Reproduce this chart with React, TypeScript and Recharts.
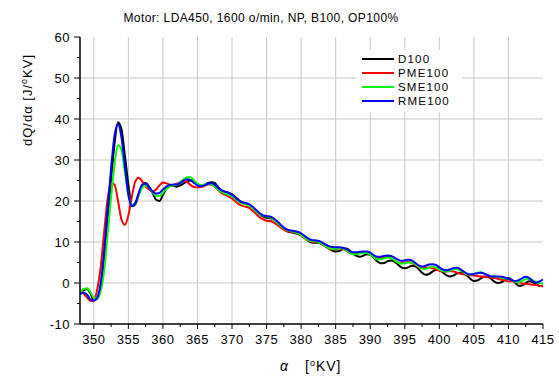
import React from 'react';
import { LineChart, Line, XAxis, YAxis, ReferenceLine } from 'recharts';

const angles = [
  348, 348.5, 349, 349.5, 350, 350.5, 351, 351.5, 352, 352.5,
  353, 353.5, 354, 354.5, 355, 355.5, 356, 356.5, 357, 357.5,
  358, 358.5, 359, 359.5, 360, 360.5, 361, 361.5, 362, 362.5,
  363, 363.5, 364, 364.5, 365, 365.5, 366, 366.5, 367, 367.5,
  368, 368.5, 369, 369.5, 370, 370.5, 371, 371.5, 372, 372.5,
  373, 373.5, 374, 374.5, 375, 375.5, 376, 376.5, 377, 377.5,
  378, 378.5, 379, 379.5, 380, 380.5, 381, 381.5, 382, 382.5,
  383, 383.5, 384, 384.5, 385, 385.5, 386, 386.5, 387, 387.5,
  388, 388.5, 389, 389.5, 390, 390.5, 391, 391.5, 392, 392.5,
  393, 393.5, 394, 394.5, 395, 395.5, 396, 396.5, 397, 397.5,
  398, 398.5, 399, 399.5, 400, 400.5, 401, 401.5, 402, 402.5,
  403, 403.5, 404, 404.5, 405, 405.5, 406, 406.5, 407, 407.5,
  408, 408.5, 409, 409.5, 410, 410.5, 411, 411.5, 412, 412.5,
  413, 413.5, 414, 414.5, 415,
];

const d100 = [
  -2.3, -1.8, -1.4, -2.5, -4.2, -3.8, -1.0, 5.5, 15, 25,
  34, 39.2, 37.5, 31, 24, 18.7, 19.2, 21.5, 23.6, 24.4,
  23.5, 22.0, 20.3, 20.0, 21.5, 23.0, 23.7, 23.7, 23.5, 23.8,
  24.3, 24.8, 25.0, 24.7, 24.0, 23.7, 23.9, 24.4, 24.6, 24.4,
  23.4, 22.6, 22.2, 22.0, 21.6, 21.0, 20.2, 19.6, 19.3, 19.0,
  18.4, 17.6, 16.8, 16.2, 15.9, 15.8, 15.5, 14.8, 14.0, 13.2,
  12.6, 12.4, 12.2, 12.0, 11.6, 11.0, 10.3, 9.9, 9.8, 9.8,
  9.5, 9.0, 8.4, 7.9, 7.7, 7.8, 8.2, 8.4, 8.0, 7.2,
  6.6, 6.4, 6.7, 7.0, 6.9, 6.2, 5.3, 4.8, 4.9, 5.3,
  5.5, 5.2, 4.5, 3.8, 3.6, 3.8, 4.2, 4.1, 3.4, 2.5,
  2.0, 2.2, 2.8, 3.2, 3.2, 2.6, 1.9, 1.6, 1.8, 2.3,
  2.5, 2.4, 1.8, 1.0, 0.5, 0.6, 1.1, 1.6, 1.5, 1.0,
  0.3, 0.0, 0.2, 0.8, 1.2, 0.8, 0.0, -0.7, -0.6, 0.0,
  0.4, 0.2, -0.3, -0.7, -0.8,
];

const pme100 = [
  -1.8, -2.5, -3.5, -4.4, -4.2, -1.5, 4.0, 12.5, 20.5, 24.3,
  24.0, 20.0, 15.5, 14.2, 16.5, 21.0, 24.8, 25.7, 24.8, 23.5,
  22.8, 22.3, 22.8, 23.8, 24.5, 24.3, 24.0, 23.9, 24.2, 24.6,
  24.9, 24.6, 23.9, 23.4, 23.3, 23.4, 23.7, 24.0, 24.0, 23.5,
  22.6, 21.9, 21.5, 21.1, 20.6, 19.9, 19.2, 18.8, 18.6, 18.3,
  17.6, 16.8, 16.0, 15.5, 15.2, 15.1, 14.8, 14.2, 13.6, 13.0,
  12.6, 12.5, 12.4, 12.1, 11.6, 11.0, 10.4, 10.1, 10.0, 9.9,
  9.5, 8.9, 8.4, 8.2, 8.3, 8.4, 8.3, 7.9, 7.4, 7.1,
  7.2, 7.5, 7.6, 7.5, 7.0, 6.4, 6.0, 6.1, 6.4, 6.4,
  6.1, 5.5, 5.0, 4.9, 5.0, 5.1, 4.9, 4.4, 3.9, 3.7,
  3.7, 3.8, 3.6, 3.3, 3.0, 2.8, 2.8, 2.9, 2.8, 2.6,
  2.3, 2.1, 2.0, 1.9, 1.8, 1.7, 1.6, 1.5, 1.4, 1.3,
  1.2, 1.0, 0.8, 0.6, 0.4, 0.4, 0.3, 0.1, -0.1, -0.2,
  -0.3, -0.4, -0.5, -0.7, -0.8,
];

const sme100 = [
  -2.2, -1.5, -1.3, -2.2, -3.6, -3.8, -2.0, 3.0, 12.0, 21.0,
  29.0, 33.6, 32.5, 27.0, 21.5, 19.0, 19.5, 21.5, 23.3, 23.8,
  23.2, 22.2, 21.3, 21.2, 22.0, 23.0, 23.6, 23.8, 24.0, 24.6,
  25.3, 25.8, 25.8, 25.0, 24.2, 23.9, 24.0, 24.2, 24.1, 23.6,
  22.8, 22.2, 21.8, 21.5, 21.1, 20.5, 19.8, 19.4, 19.2, 18.9,
  18.3, 17.5, 16.8, 16.4, 16.2, 16.0, 15.5, 14.8, 14.0, 13.3,
  12.9, 12.7, 12.5, 12.2, 11.7, 11.1, 10.5, 10.2, 10.2, 10.0,
  9.6, 9.0, 8.5, 8.3, 8.4, 8.5, 8.4, 8.0, 7.4, 7.0,
  7.0, 7.2, 7.4, 7.3, 6.9, 6.3, 5.8, 5.8, 6.0, 6.2,
  6.1, 5.6, 5.0, 4.7, 4.8, 5.0, 5.0, 4.6, 4.0, 3.5,
  3.4, 3.7, 4.0, 3.8, 3.3, 2.9, 2.8, 3.0, 3.3, 3.4,
  3.1, 2.6, 2.1, 2.0, 2.2, 2.5, 2.6, 2.3, 1.9, 1.6,
  1.6, 1.5, 1.3, 1.1, 1.0, 0.7, 0.3, 0.2, 0.5, 0.9,
  1.0, 0.7, 0.2, 0.0, -0.1,
];

const rme100 = [
  -2.8, -2.4, -2.8, -4.0, -4.3, -3.5, 0.0, 8.0, 18.0, 28.0,
  36.0, 38.7, 35.5, 28.5, 21.5, 18.8, 19.5, 22.0, 24.0, 24.2,
  23.3, 22.3, 21.8, 22.0, 22.8, 23.5, 23.9, 24.0, 24.0, 24.4,
  25.0, 25.3, 25.1, 24.4, 23.8, 23.6, 23.8, 24.2, 24.3, 24.0,
  23.2, 22.6, 22.3, 22.0, 21.5, 20.8, 20.1, 19.7, 19.5, 19.2,
  18.6, 17.8, 17.0, 16.5, 16.3, 16.2, 15.8, 15.1, 14.3, 13.5,
  13.0, 12.8, 12.7, 12.5, 12.1, 11.5, 10.9, 10.5, 10.4, 10.3,
  9.9, 9.4, 9.0, 8.8, 8.7, 8.7, 8.6, 8.3, 7.8, 7.5,
  7.5, 7.6, 7.7, 7.7, 7.4, 6.8, 6.4, 6.4, 6.6, 6.7,
  6.6, 6.2, 5.7, 5.4, 5.5, 5.7, 5.5, 4.9, 4.3, 4.0,
  4.2, 4.5, 4.6, 4.4, 3.8, 3.3, 3.1, 3.3, 3.6, 3.7,
  3.4, 2.8, 2.3, 2.1, 2.2, 2.4, 2.5, 2.3, 1.9, 1.6,
  1.6, 1.6, 1.5, 1.3, 1.0, 0.7, 0.5, 0.7, 1.2, 1.5,
  1.2, 0.5, 0.1, 0.4, 0.8,
];

const xTicks = [350, 352.5, 355, 357.5, 360, 362.5, 365, 367.5, 370, 372.5, 375, 377.5, 380, 382.5, 385, 387.5, 390, 392.5, 395, 397.5, 400, 402.5, 405, 407.5, 410, 412.5, 415];
const xGrid = [350, 355, 360, 365, 370, 375, 380, 385, 390, 395, 400, 405, 410];
const yTicks = [-10, -5, 0, 5, 10, 15, 20, 25, 30, 35, 40, 45, 50, 55, 60];
const yGrid = [0, 10, 20, 30, 40, 50];

const seriesNames = ['D100', 'PME100', 'SME100', 'RME100'];
const seriesKeys = ['d100', 'pme100', 'sme100', 'rme100'];
const seriesColors = ['#000000', '#ff0000', '#00ff00', '#0000ff'];

const rows = angles.map((a, i) => ({
  angle: a,
  d100: d100[i],
  pme100: pme100[i],
  sme100: sme100[i],
  rme100: rme100[i],
}));

const FONT = '"Liberation Sans", Arial, sans-serif';
const X_TICK_SIZE = 5;
const X_TICK_MARGIN = 4;
const Y_TICK_SIZE = 6;
const Y_TICK_MARGIN = 4;

const XTick = (props: any) => {
  const { x, y, payload } = props;
  const v = payload.value;
  const major = Math.abs(v % 5) < 1e-6;
  const axisY = y - X_TICK_SIZE - X_TICK_MARGIN;
  return (
    <g>
      <line x1={x} x2={x} y1={axisY} y2={axisY + (major ? 5 : 3)} stroke="#000" strokeWidth={1} />
      {major && (
        <text x={x} y={axisY + 19.5} textAnchor="middle" fontFamily={FONT} fontSize={13} letterSpacing={0.5} fill="#000">
          {v}
        </text>
      )}
    </g>
  );
};

const YTick = (props: any) => {
  const { x, y, payload } = props;
  const v = payload.value;
  const major = Math.abs(v % 10) < 1e-6;
  const axisX = x + Y_TICK_SIZE + Y_TICK_MARGIN;
  return (
    <g>
      <line x1={axisX} x2={axisX - (major ? 6 : 3)} y1={y} y2={y} stroke="#000" strokeWidth={1} />
      {major && (
        <text x={axisX - 10} y={y + 4.5} textAnchor="end" fontFamily={FONT} fontSize={13} letterSpacing={0.5} fill="#000">
          {v}
        </text>
      )}
    </g>
  );
};

export default function App() {
  return (
    <div style={{ position: 'absolute', left: 0, top: 0, width: 559, height: 378, background: '#fff' }}>
      <LineChart width={559} height={378} data={rows} margin={{ top: 37, right: 16, bottom: 0, left: 0 }}>
        <XAxis
          dataKey="angle"
          type="number"
          domain={[348, 415]}
          ticks={xTicks}
          interval={0}
          allowDataOverflow
          height={54}
          tickSize={X_TICK_SIZE}
          tickMargin={X_TICK_MARGIN}
          tickLine={false}
          axisLine={{ stroke: '#000', strokeWidth: 1.5 }}
          tick={<XTick />}
        />
        <XAxis
          xAxisId="top"
          orientation="top"
          type="number"
          domain={[348, 415]}
          height={0}
          tick={false}
          tickLine={false}
          axisLine={{ stroke: '#000', strokeWidth: 1.5 }}
        />
        <YAxis
          type="number"
          domain={[-10, 60]}
          ticks={yTicks}
          interval={0}
          allowDataOverflow
          width={80}
          tickSize={Y_TICK_SIZE}
          tickMargin={Y_TICK_MARGIN}
          tickLine={false}
          axisLine={{ stroke: '#000', strokeWidth: 1.5 }}
          tick={<YTick />}
        />
        <YAxis
          yAxisId="right"
          orientation="right"
          type="number"
          domain={[-10, 60]}
          width={0}
          tick={false}
          tickLine={false}
          axisLine={{ stroke: '#000', strokeWidth: 1.5 }}
        />
        {xGrid.map((v) => (
          <ReferenceLine key={'gx' + v} x={v} stroke="#c8c8c8" strokeWidth={1} />
        ))}
        {yGrid.map((v) => (
          <ReferenceLine key={'gy' + v} y={v} stroke="#c8c8c8" strokeWidth={1} />
        ))}
        {seriesKeys.map((k, i) => (
          <Line
            key={k}
            dataKey={k}
            name={seriesNames[i]}
            type="monotone"
            stroke={seriesColors[i]}
            strokeWidth={2}
            dot={false}
            isAnimationActive={false}
          />
        ))}
      </LineChart>
      <svg width={559} height={378} style={{ position: 'absolute', left: 0, top: 0, pointerEvents: 'none' }}>
        <text x={261} y={22} textAnchor="middle" fontFamily={FONT} fontSize={12} letterSpacing={0.4} fill="#000">
          Motor: LDA450, 1600 o/min, NP, B100, OP100%
        </text>
        <text
          transform="translate(32,100) rotate(-90)"
          textAnchor="middle"
          fontFamily={FONT}
          fontSize={13}
          letterSpacing={1}
          fill="#000"
        >
          <tspan>dQ/dα [J/</tspan>
          <tspan dy={-5} fontSize={9}>o</tspan>
          <tspan dy={5}>KV]</tspan>
        </text>
        <text x={280} y={371} fontFamily={FONT} fontSize={14} fontStyle="italic" fill="#000">α</text>
        <text x={305} y={371} fontFamily={FONT} fontSize={14} letterSpacing={1} fill="#000">
          <tspan>[</tspan>
          <tspan dy={-5} fontSize={9}>o</tspan>
          <tspan dy={5}>KV]</tspan>
        </text>
        <rect x={357} y={50} width={105} height={62} fill="#fff" />
        {seriesNames.map((n, i) => (
          <g key={n}>
            <line x1={362} x2={394} y1={59 + i * 14} y2={59 + i * 14} stroke={seriesColors[i]} strokeWidth={2} />
            <text x={398} y={63 + i * 14} fontFamily={FONT} fontSize={11.5} letterSpacing={1.2} fill="#000">
              {n}
            </text>
          </g>
        ))}
      </svg>
    </div>
  );
}
